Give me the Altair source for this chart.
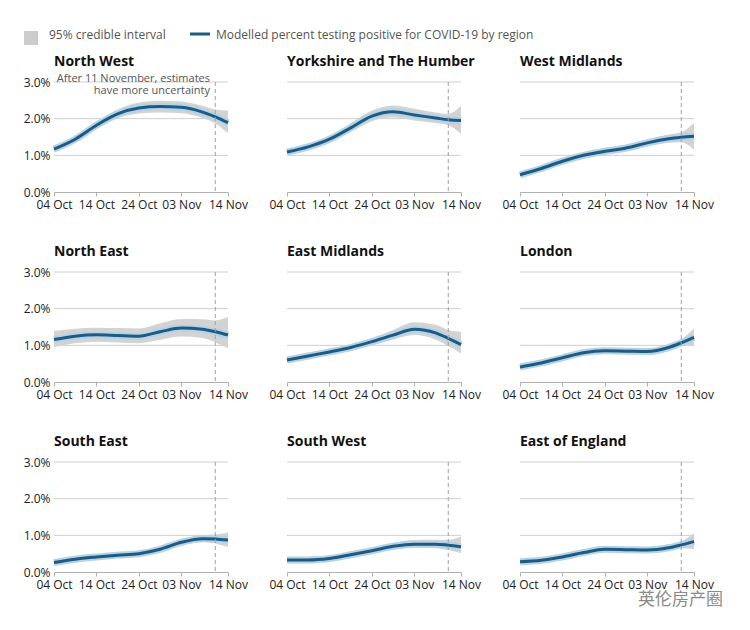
import altair as alt
import pandas as pd

# ---------------- data ----------------
dates = ["2020-10-04T00:00:00", "2020-10-09T00:00:00", "2020-10-14T00:00:00",
         "2020-10-19T00:00:00", "2020-10-24T00:00:00", "2020-10-29T00:00:00",
         "2020-11-03T00:00:00", "2020-11-08T00:00:00", "2020-11-11T00:00:00",
         "2020-11-14T00:00:00"]

regions = ["North West", "Yorkshire and The Humber", "West Midlands",
           "North East", "East Midlands", "London",
           "South East", "South West", "East of England"]

nw_mid = [1.17, 1.44, 1.82, 2.13, 2.29, 2.33, 2.31, 2.18, 2.05, 1.89]
nw_lo  = [1.10, 1.36, 1.72, 2.01, 2.14, 2.17, 2.15, 2.02, 1.87, 1.60]
nw_hi  = [1.24, 1.52, 1.92, 2.25, 2.44, 2.49, 2.47, 2.35, 2.25, 2.22]

yh_mid = [1.09, 1.23, 1.44, 1.75, 2.07, 2.19, 2.10, 2.02, 1.97, 1.95]
yh_lo  = [1.03, 1.16, 1.36, 1.64, 1.93, 2.03, 1.95, 1.88, 1.82, 1.58]
yh_hi  = [1.16, 1.31, 1.53, 1.87, 2.22, 2.36, 2.27, 2.17, 2.13, 2.35]

wm_mid = [0.47, 0.64, 0.84, 1.00, 1.11, 1.20, 1.34, 1.45, 1.49, 1.52]
wm_lo  = [0.43, 0.59, 0.78, 0.93, 1.03, 1.11, 1.24, 1.34, 1.36, 1.15]
wm_hi  = [0.52, 0.69, 0.90, 1.07, 1.19, 1.29, 1.44, 1.57, 1.63, 1.88]

ne_mid = [1.16, 1.25, 1.29, 1.27, 1.25, 1.37, 1.47, 1.44, 1.37, 1.28]
ne_lo  = [0.95, 1.06, 1.10, 1.08, 1.06, 1.15, 1.24, 1.20, 1.08, 0.92]
ne_hi  = [1.39, 1.45, 1.48, 1.47, 1.46, 1.60, 1.72, 1.71, 1.68, 1.77]

em_mid = [0.60, 0.71, 0.82, 0.94, 1.10, 1.28, 1.44, 1.34, 1.19, 1.02]
em_lo  = [0.53, 0.64, 0.75, 0.86, 1.00, 1.16, 1.28, 1.16, 0.98, 0.78]
em_hi  = [0.68, 0.79, 0.90, 1.03, 1.20, 1.42, 1.63, 1.56, 1.42, 1.37]

ld_mid = [0.41, 0.52, 0.66, 0.80, 0.85, 0.84, 0.83, 0.94, 1.07, 1.22]
ld_lo  = [0.37, 0.48, 0.61, 0.74, 0.79, 0.78, 0.77, 0.87, 0.98, 1.00]
ld_hi  = [0.45, 0.56, 0.71, 0.86, 0.91, 0.90, 0.90, 1.02, 1.17, 1.46]

se_mid = [0.26, 0.35, 0.41, 0.46, 0.50, 0.62, 0.81, 0.91, 0.90, 0.87]
se_lo  = [0.23, 0.32, 0.38, 0.42, 0.46, 0.57, 0.74, 0.82, 0.78, 0.68]
se_hi  = [0.29, 0.38, 0.44, 0.50, 0.55, 0.68, 0.88, 1.00, 1.02, 1.08]

sw_mid = [0.33, 0.33, 0.37, 0.47, 0.58, 0.70, 0.76, 0.76, 0.73, 0.69]
sw_lo  = [0.30, 0.30, 0.34, 0.42, 0.52, 0.62, 0.66, 0.65, 0.60, 0.51]
sw_hi  = [0.36, 0.37, 0.41, 0.52, 0.65, 0.79, 0.87, 0.88, 0.88, 0.96]

ee_mid = [0.28, 0.32, 0.41, 0.53, 0.62, 0.61, 0.60, 0.66, 0.74, 0.83]
ee_lo  = [0.25, 0.29, 0.37, 0.48, 0.56, 0.55, 0.54, 0.59, 0.65, 0.62]
ee_hi  = [0.31, 0.35, 0.45, 0.58, 0.68, 0.67, 0.66, 0.74, 0.84, 1.06]

series = {
    "North West": (nw_mid, nw_lo, nw_hi),
    "Yorkshire and The Humber": (yh_mid, yh_lo, yh_hi),
    "West Midlands": (wm_mid, wm_lo, wm_hi),
    "North East": (ne_mid, ne_lo, ne_hi),
    "East Midlands": (em_mid, em_lo, em_hi),
    "London": (ld_mid, ld_lo, ld_hi),
    "South East": (se_mid, se_lo, se_hi),
    "South West": (sw_mid, sw_lo, sw_hi),
    "East of England": (ee_mid, ee_lo, ee_hi),
}

y_ticks = [0, 1, 2, 3]
grid_values = [1, 2, 3]
cutoff_date = "2020-11-11T00:00:00"

legend_band = "95% credible interval"
legend_line = "Modelled percent testing positive for COVID-19 by region"
note_lines = ["After 11 November, estimates", "have more uncertainty"]
watermark = "英伦房产圈"

# ---------------- styling ----------------
LINE = "#1f5a80"
HALO = "#b3d3e8"
BAND = "#d3d3d3"
FONT = "Open Sans"
W, H = 174, 110

x_tick_values = [
    alt.DateTime(year=2020, month=10, date=4),
    alt.DateTime(year=2020, month=10, date=14),
    alt.DateTime(year=2020, month=10, date=24),
    alt.DateTime(year=2020, month=11, date=3),
    alt.DateTime(year=2020, month=11, date=14),
]
x_domain = [alt.DateTime(year=2020, month=10, date=4),
            alt.DateTime(year=2020, month=11, date=14)]


def one_row(**kw):
    return pd.DataFrame({k: [v] for k, v in kw.items()})


def panel(name, col):
    mid, lo, hi = series[name]
    df = pd.DataFrame({"date": dates, "mid": mid, "lo": lo, "hi": hi})
    xaxis = alt.Axis(values=x_tick_values, format="%d %b", title=None,
                     grid=False, labelFlush=False, labelOverlap=False,
                     domainColor="#b0b0b0", tickColor="#b0b0b0",
                     tickSize=4, labelPadding=3, labelFontSize=12,
                     labelColor="#222", labelFont=FONT)
    xscale = alt.Scale(domain=x_domain)
    yaxis = alt.Axis(values=y_ticks, title=None, grid=False, domain=False,
                     ticks=False, labels=(col == 0), labelPadding=4,
                     labelOverlap=False,
                     labelExpr="format(datum.value, '.1f') + '%'",
                     labelFontSize=12, labelColor="#222", labelFont=FONT)
    yscale = alt.Scale(domain=[0, 3], nice=False)

    def X(field):
        return alt.X(field, scale=xscale, axis=xaxis)

    def Y(field):
        return alt.Y(field, scale=yscale, axis=yaxis)

    grid = alt.Chart(pd.DataFrame({"g": grid_values})).mark_rule(
        color="#cfcfcf", strokeWidth=1).encode(y=Y("g:Q"))
    band = alt.Chart(df).mark_area(color=BAND, interpolate="monotone").encode(
        x=X("date:T"), y=Y("lo:Q"), y2="hi:Q")
    halo = alt.Chart(df).mark_line(color=HALO, strokeWidth=7,
                                   interpolate="monotone").encode(
        x=X("date:T"), y=Y("mid:Q"))
    line = alt.Chart(df).mark_line(color=LINE, strokeWidth=3,
                                   interpolate="monotone").encode(
        x=X("date:T"), y=Y("mid:Q"))
    rule = alt.Chart(one_row(d=cutoff_date)).mark_rule(
        color="#a0a0a0", strokeDash=[4, 3], strokeWidth=1).encode(x=X("d:T"))
    title = alt.Chart(one_row(t=name)).mark_text(
        align="left", baseline="alphabetic", fontSize=14, fontWeight="bold",
        font=FONT, color="#111").encode(
        text="t:N", x=alt.value(0), y=alt.value(-16))

    layers = [grid, band, halo, line, rule, title]

    if name == "North West":
        for i, t in enumerate(note_lines):
            layers.append(alt.Chart(one_row(t=t)).mark_text(
                align="right", baseline="middle", fontSize=11, font=FONT,
                color="#555").encode(text="t:N", x=alt.value(156),
                                     y=alt.value(-3 + 12 * i)))
        layers.append(alt.Chart(one_row(a=1)).mark_square(
            size=196, color="#cccccc", opacity=1).encode(
            x=alt.value(-23), y=alt.value(-44)))
        layers.append(alt.Chart(one_row(t=legend_band)).mark_text(
            align="left", baseline="middle", fontSize=12, font=FONT,
            color="#555").encode(text="t:N", x=alt.value(-5), y=alt.value(-47)))
        layers.append(alt.Chart(one_row(a=1)).mark_rule(
            color=LINE, strokeWidth=3).encode(
            x=alt.value(136), x2=alt.value(156), y=alt.value(-48)))
        layers.append(alt.Chart(one_row(t=legend_line)).mark_text(
            align="left", baseline="middle", fontSize=12, font=FONT,
            color="#555").encode(text="t:N", x=alt.value(162), y=alt.value(-47)))
    if name == "East of England":
        layers.append(alt.Chart(one_row(t=watermark)).mark_text(
            align="left", baseline="middle", fontSize=17,
            font="Noto Sans CJK SC", color="#8a8a8a").encode(
            text="t:N", x=alt.value(118), y=alt.value(138)))

    return alt.layer(*layers).properties(width=W, height=H)


panels = [panel(r, i % 3) for i, r in enumerate(regions)]

chart = alt.concat(*panels, columns=3, spacing={"row": 80, "column": 59},
                   bounds="flush").properties(
    padding={"left": 14, "top": 20, "right": 5, "bottom": 5},
    background="white",
).configure(font=FONT, view=alt.ViewConfig(stroke="transparent"))

chart.save("out.html", embed_options={"renderer": "svg", "actions": False})
